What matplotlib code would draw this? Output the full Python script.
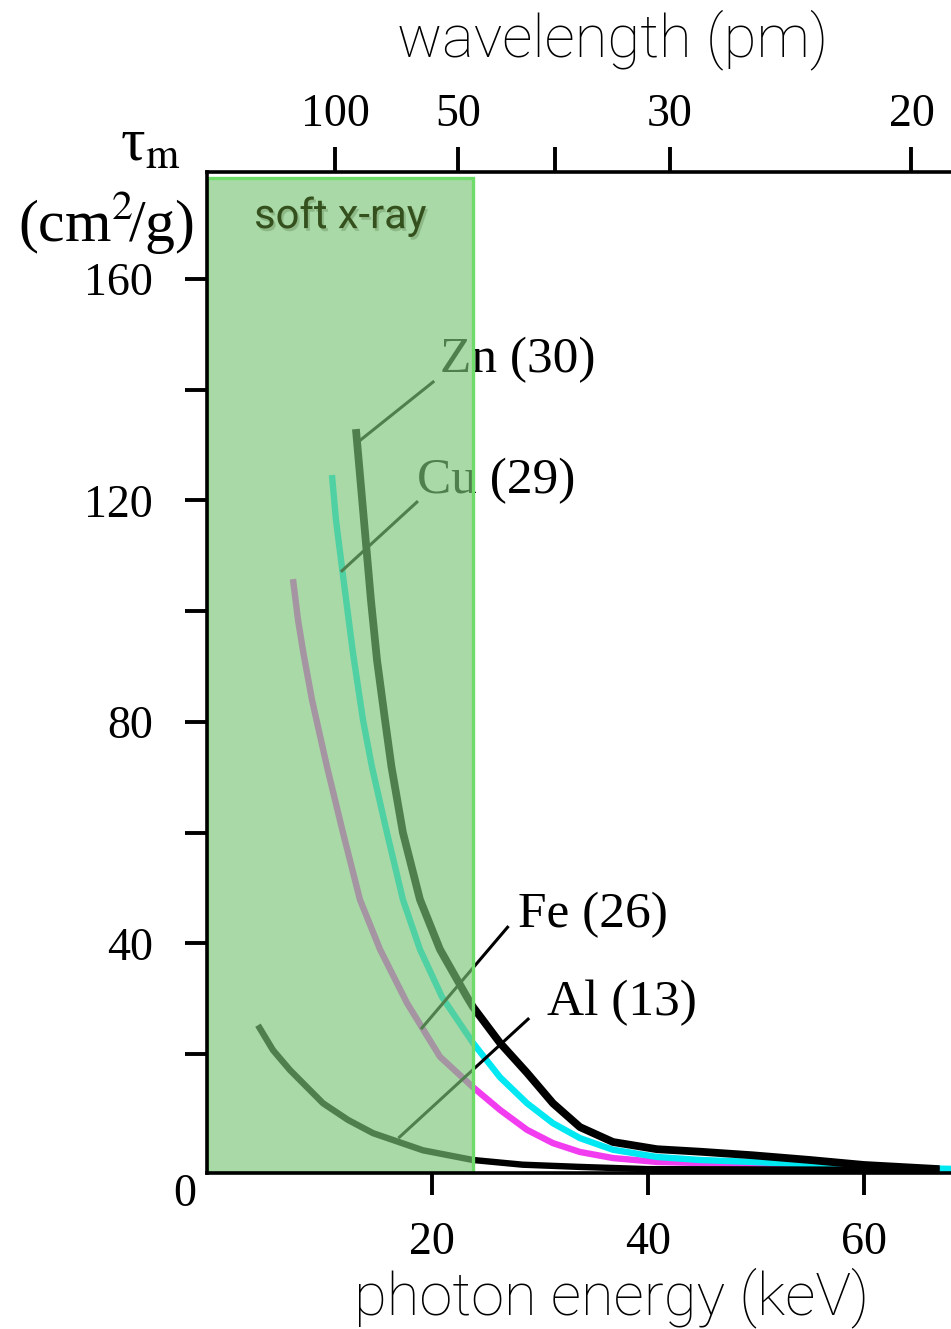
import matplotlib
matplotlib.use("Agg")
import matplotlib.pyplot as plt
from matplotlib.patches import Rectangle
import matplotlib.patheffects as pe

# mass attenuation curves: photon energy (keV) vs tau_m (cm^2/g)
zn_energy = [12.96, 13.70, 14.35, 14.91, 15.65, 16.25, 17.31, 18.89, 20.74, 23.24, 23.8, 26.3,
             28.8, 31.2, 33.7, 36.76, 40.83, 44.8, 49.7, 55.0, 60.0, 67.0]
zn_tau = [132.9, 116.5, 102.0, 91.2, 80.4, 71.9, 60.0, 47.9, 38.9, 30.3, 28.5, 22.0,
          16.6, 11.1, 6.8, 4.1, 2.8, 2.35, 1.7, 0.85, -0.05, -0.8]

cu_energy = [10.74, 11.11, 11.7, 12.69, 13.61, 14.44, 15.83, 17.31, 18.89, 20.93, 23.8, 26.3,
             28.8, 31.2, 33.7, 36.76, 40.83, 44.8, 49.7, 60.0, 69.0]
cu_tau = [124.6, 116.5, 107.4, 92.4, 80.4, 71.9, 60.0, 47.9, 38.9, 30.3, 22.0, 15.8,
          11.1, 7.5, 4.8, 2.7, 1.4, 0.85, 0.5, -0.4, -0.8]

fe_energy = [7.13, 7.6, 8.1, 8.9, 10.28, 11.76, 13.33, 15.19, 17.69, 20.74, 23.8,
             26.3, 28.8, 31.2, 33.7, 36.76, 40.83, 44.8, 49.7, 60.0]
fe_tau = [105.8, 98.4, 92.4, 83.9, 71.9, 60.0, 47.9, 38.9, 29.2, 19.5, 14.0,
          9.9, 6.3, 3.9, 2.3, 1.2, 0.5, 0.3, -0.05, -0.4]

al_energy = [3.89, 5.28, 6.85, 9.91, 12.22, 14.54, 19.17, 23.8, 28.4, 33.7, 40.0, 67.0]
al_tau = [25.2, 20.7, 17.1, 11.1, 8.1, 5.7, 2.6, 0.85, 0.0, -0.4, -0.8, -0.95]

# element labels: text, label anchor (keV, tau), leader start, leader end
labels = ["Zn (30)", "Cu (29)", "Fe (26)", "Al (13)"]
label_pos = [(20.74, 143.2), (18.6, 121.3), (27.96, 42.9), (30.65, 27.0)]
leader_from = [(20.1, 141.4), (18.6, 119.7), (27.0, 42.9), (28.9, 26.3)]
leader_to = [(13.24, 130.7), (11.67, 107.3), (19.07, 24.7), (17.0, 5.0)]

y_major = [40, 80, 120, 160]
y_minor = [20, 60, 100, 140]
x_ticks = [20, 40, 60]

# wavelength ticks on the top axis, placed at the energies where they sit in the figure
wl_tick_energy = [11.06, 22.4, 31.4, 42.05, 64.4]
wl_tick_labels = ["100", "50", "", "30", "20"]

soft_xray_max = 23.8
x_range = (-0.83, 68.94)
y_range = (-1.5, 179.4)

SERIF = ["Liberation Serif", "DejaVu Serif"]
SANS = ["Roboto", "Liberation Sans", "DejaVu Sans"]
CYAN = "#00e8f2"
MAGENTA = "#f23cf0"

plt.rcParams["mathtext.fontset"] = "stix"

fig = plt.figure(figsize=(9.51, 13.29), dpi=100)
W, H = 951, 1329
ax = fig.add_axes([207 / W, 1 - 1173 / H, (960.5 - 207) / W, (1173 - 171.7) / H])
ax.set_xlim(*x_range)
ax.set_ylim(*y_range)

line_kw = dict(solid_capstyle="butt", solid_joinstyle="round")
ax.plot(fe_energy, fe_tau, color=MAGENTA, lw=4.6, zorder=2, **line_kw)
ax.plot(cu_energy, cu_tau, color=CYAN, lw=4.6, zorder=3, **line_kw)
ax.plot(al_energy, al_tau, color="black", lw=4.6, zorder=3.5, **line_kw)
ax.plot(zn_energy, zn_tau, color="black", lw=5.6, zorder=4, **line_kw)

for text, pos, p0, p1 in zip(labels, label_pos, leader_from, leader_to):
    ax.text(pos[0], pos[1], text, family=SERIF, fontsize=37, ha="left", va="baseline", zorder=4)
    ax.plot([p0[0], p1[0]], [p0[1], p1[1]], color="black", lw=2.2, zorder=4)

band = Rectangle((x_range[0], y_range[0]), soft_xray_max - x_range[0], 178.3 - y_range[0],
                 facecolor=(124 / 255, 197 / 255, 121 / 255, 0.65),
                 edgecolor="#6fdc6a", lw=2.4, zorder=5)
ax.add_patch(band)
ax.text(11.5, 171.3, "soft x-ray", family=SANS, fontsize=30,
        color="#34501c", ha="center", va="center", zorder=6,
        path_effects=[pe.withSimplePatchShadow(offset=(1.5, -2), shadow_rgbFace="#4f6f40", alpha=0.3)])

for side in ["top", "right"]:
    ax.spines[side].set_visible(False)
for side in ["left", "bottom"]:
    ax.spines[side].set_linewidth(2.6)
    ax.spines[side].set_zorder(6)

ax.set_yticks(y_major)
ax.set_yticks(y_minor, minor=True)
ax.set_yticklabels([str(v) for v in y_major], family=SERIF, fontsize=33)
ax.set_xticks(x_ticks)
ax.set_xticklabels([str(v) for v in x_ticks], family=SERIF, fontsize=33)
ax.tick_params(axis="y", which="both", length=16, width=2.8, pad=23, direction="out")
ax.tick_params(axis="x", length=16, width=2.8, pad=19, direction="out")

top = ax.twiny()
top.set_xlim(*x_range)
for side in ["left", "right", "bottom"]:
    top.spines[side].set_visible(False)
top.spines["top"].set_linewidth(2.6)
top.set_xticks(wl_tick_energy)
top.set_xticklabels(wl_tick_labels, family=SERIF, fontsize=33)
top.tick_params(axis="x", length=18, width=2.8, pad=8, direction="out")

fig.text(185 / W, 1 - 1195 / H, "0", family=SERIF, fontsize=33, ha="center", va="center")
fig.text(150 / W, 1 - 146 / H, r"τ$_\mathrm{m}$", family=SERIF, fontsize=44, ha="center", va="center")
fig.text(106 / W, 1 - 222 / H, r"(cm$^2\!$/g)", family=SERIF, fontsize=43, ha="center", va="center")
fig.text(613 / W, 1 - 40 / H, "wavelength (pm)", family=SANS, fontweight="light", fontsize=43,
         ha="center", va="center")
fig.text(612 / W, 1 - 1298 / H, "photon energy (keV)", family=SANS, fontweight="light", fontsize=43,
         ha="center", va="center")

fig.savefig("out.png", dpi=100)
